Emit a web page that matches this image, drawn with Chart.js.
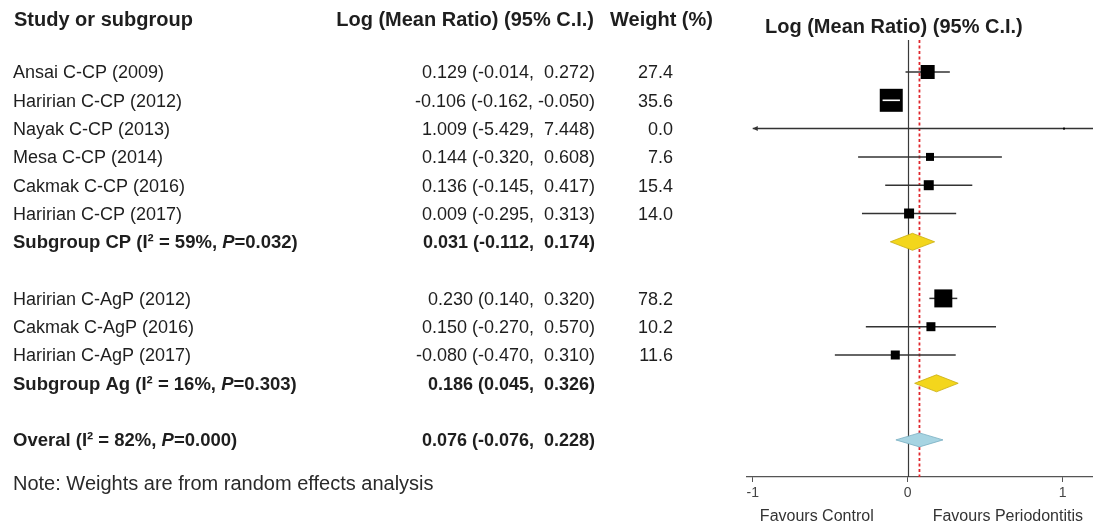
<!DOCTYPE html>
<html>
<head>
<meta charset="utf-8">
<title>Forest plot: Log (Mean Ratio)</title>
<script src="https://cdn.jsdelivr.net/npm/chart.js@4.4.1/dist/chart.umd.min.js"></script>
<style>
  html, body { margin: 0; padding: 0; background: #fff; }
  #wrap { width: 1093px; height: 528px; position: relative; }
  canvas { display: block; }
</style>
</head>
<body>
<div id="wrap"><canvas id="forest" width="1093" height="528"></canvas></div>
<script>
// ---- Study-level data ----
const studies   = ['Ansai C-CP (2009)', 'Haririan C-CP (2012)', 'Nayak C-CP (2013)', 'Mesa C-CP (2014)',
                   'Cakmak C-CP (2016)', 'Haririan C-CP (2017)',
                   'Haririan C-AgP (2012)', 'Cakmak C-AgP (2016)', 'Haririan C-AgP (2017)'];
const studyGroup = ['CP', 'CP', 'CP', 'CP', 'CP', 'CP', 'Ag', 'Ag', 'Ag'];
const estimate  = [0.129, -0.106, 1.009, 0.144, 0.136, 0.009, 0.230, 0.150, -0.080];
const lower     = [-0.014, -0.162, -5.429, -0.320, -0.145, -0.295, 0.140, -0.270, -0.470];
const upper     = [0.272, -0.050, 7.448, 0.608, 0.417, 0.313, 0.320, 0.570, 0.310];
const weights   = [27.4, 35.6, 0.0, 7.6, 15.4, 14.0, 78.2, 10.2, 11.6];

// ---- Pooled estimates ----
const groups        = ['CP', 'Ag'];
const groupLabels   = ['Subgroup CP', 'Subgroup Ag'];
const groupI2       = [59, 16];
const groupP        = ['0.032', '0.303'];
const groupEstimate = [0.031, 0.186];
const groupLower    = [-0.112, 0.045];
const groupUpper    = [0.174, 0.326];

const overallLabel    = 'Overal';
const overallI2       = 82;
const overallP        = '0.000';
const overallEstimate = 0.076;
const overallLower    = -0.076;
const overallUpper    = 0.228;

// ---- Axis ticks ----
const xTicks = [-1, 0, 1];

// ---- Marker styling (box side in px per study) ----
const boxSide = [14, 23, 2, 8, 10, 10, 18, 9, 9];
const FONT = '"Liberation Sans", Arial, Helvetica, sans-serif';
const TEXT = '#1e1e1e';

// Row layout: each group's studies, then its pooled row, then a blank row; overall last.
const studyRow = new Array(studies.length);
const groupRow = [];
let r = 0;
groups.forEach((g, gi) => {
  studyGroup.forEach((sg, i) => { if (sg === g) studyRow[i] = r++; });
  groupRow[gi] = r++;
  r++;
});
const overallRow = r;

function ciText(e, lo, hi) {
  const f = v => v.toFixed(3);
  return f(e) + ' (' + f(lo) + ', ' + (hi >= 0 ? ' ' : '') + f(hi) + ')';
}

// Draw runs of text with mixed styles, left to right.
function drawRuns(ctx, runs, x, y, size) {
  let cx = x;
  runs.forEach(([txt, style]) => {
    ctx.font = style + ' ' + size + 'px ' + FONT;
    ctx.fillText(txt, cx, y);
    cx += ctx.measureText(txt).width;
  });
}

function diamond(ctx, xs, y, lo, est, hi, half, fill, stroke) {
  const x0 = xs.getPixelForValue(lo), x1 = xs.getPixelForValue(est), x2 = xs.getPixelForValue(hi);
  ctx.beginPath();
  ctx.moveTo(x0, y);
  ctx.lineTo(x1, y - half);
  ctx.lineTo(x2, y);
  ctx.lineTo(x1, y + half);
  ctx.closePath();
  ctx.fillStyle = fill;
  ctx.fill();
  ctx.lineWidth = 0.8;
  ctx.strokeStyle = stroke;
  ctx.stroke();
}

const forestPlugin = {
  id: 'forest',
  beforeDatasetsDraw(chart) {
    const { ctx, chartArea, scales: { x: xs, y: ys } } = chart;
    ctx.save();
    // null line
    const x0 = Math.round(xs.getPixelForValue(0)) + 0.5;
    ctx.strokeStyle = '#3a3a3a';
    ctx.lineWidth = 1.2;
    ctx.beginPath();
    ctx.moveTo(x0, chartArea.top);
    ctx.lineTo(x0, chartArea.bottom);
    ctx.stroke();
    // overall estimate line
    const xo = xs.getPixelForValue(overallEstimate);
    ctx.strokeStyle = '#e0262c';
    ctx.lineWidth = 1.8;
    ctx.setLineDash([3, 2.5]);
    ctx.beginPath();
    ctx.moveTo(xo, chartArea.top);
    ctx.lineTo(xo, chartArea.bottom);
    ctx.stroke();
    ctx.setLineDash([]);

    // confidence intervals
    ctx.strokeStyle = '#333333';
    ctx.fillStyle = '#333333';
    ctx.lineWidth = 1.5;
    const leftLimit = xTicks[0];
    studies.forEach((s, i) => {
      const y = ys.getPixelForValue(studyRow[i]);
      const lo = Math.max(lower[i], leftLimit);
      const hi = Math.min(upper[i], xs.max);
      const px0 = xs.getPixelForValue(lo), px1 = xs.getPixelForValue(hi);
      ctx.beginPath();
      ctx.moveTo(px0, y);
      ctx.lineTo(px1, y);
      ctx.stroke();
      if (lower[i] < leftLimit) {
        ctx.beginPath();
        ctx.moveTo(px0, y);
        ctx.lineTo(px0 + 5, y - 2.5);
        ctx.lineTo(px0 + 5, y + 2.5);
        ctx.closePath();
        ctx.fill();
      }
    });

    // pooled diamonds
    groups.forEach((g, gi) => {
      diamond(ctx, xs, ys.getPixelForValue(groupRow[gi]), groupLower[gi], groupEstimate[gi], groupUpper[gi],
              8.5, '#f3d61c', '#c9ad12');
    });
    diamond(ctx, xs, ys.getPixelForValue(overallRow), overallLower, overallEstimate, overallUpper,
            7, '#a7d4e2', '#79afc1');
    ctx.restore();
  },
  afterDatasetsDraw(chart) {
    const { ctx, scales: { x: xs, y: ys } } = chart;
    ctx.save();
    // a CI lying wholly inside its box is drawn in white so it stays visible
    studies.forEach((s, i) => {
      const cx = xs.getPixelForValue(estimate[i]);
      const half = boxSide[i] / 2;
      const px0 = xs.getPixelForValue(lower[i]), px1 = xs.getPixelForValue(upper[i]);
      if (px0 > cx - half && px1 < cx + half) {
        const y = ys.getPixelForValue(studyRow[i]);
        ctx.strokeStyle = '#ffffff';
        ctx.lineWidth = 1.6;
        ctx.beginPath();
        ctx.moveTo(px0, y);
        ctx.lineTo(px1, y);
        ctx.stroke();
      }
    });
    ctx.restore();
  },
  afterDraw(chart) {
    const { ctx, scales: { x: xs, y: ys } } = chart;
    ctx.save();
    ctx.fillStyle = TEXT;
    ctx.textBaseline = 'middle';

    // column headers
    ctx.font = 'bold 20px ' + FONT;
    ctx.textAlign = 'left';
    ctx.fillText('Study or subgroup', 14, 20);
    ctx.textAlign = 'right';
    ctx.fillText('Log (Mean Ratio) (95% C.I.)', 594, 20);
    ctx.textAlign = 'left';
    ctx.fillText('Weight (%)', 610, 20);
    ctx.fillText('Log (Mean Ratio) (95% C.I.)', 765, 27);

    // study rows
    studies.forEach((s, i) => {
      const y = ys.getPixelForValue(studyRow[i]) + 1.5;
      ctx.font = '18px ' + FONT;
      ctx.textAlign = 'left';
      ctx.fillText(s, 13, y);
      ctx.textAlign = 'right';
      ctx.fillText(ciText(estimate[i], lower[i], upper[i]), 595, y);
      ctx.fillText(weights[i].toFixed(1), 673, y);
    });

    // pooled rows
    const pooled = groups.map((g, gi) => [groupLabels[gi], groupI2[gi], groupP[gi], groupRow[gi],
                                          groupEstimate[gi], groupLower[gi], groupUpper[gi]]);
    pooled.push([overallLabel, overallI2, overallP, overallRow, overallEstimate, overallLower, overallUpper]);
    pooled.forEach(([label, i2, p, row, e, lo, hi]) => {
      const y = ys.getPixelForValue(row) + 1.5;
      ctx.textAlign = 'left';
      drawRuns(ctx, [[label + ' (I\u00B2 = ' + i2 + '%, ', 'bold'], ['P', 'italic bold'], ['=' + p + ')', 'bold']], 13, y, 18.5);
      ctx.font = 'bold 18px ' + FONT;
      ctx.textAlign = 'right';
      ctx.fillText(ciText(e, lo, hi), 595, y);
    });

    // footnote
    ctx.font = '20px ' + FONT;
    ctx.textAlign = 'left';
    ctx.fillStyle = '#2a2a2a';
    ctx.fillText('Note: Weights are from random effects analysis', 13, 484);

    // direction labels under the axis
    const zx = xs.getPixelForValue(0);
    ctx.font = '16px ' + FONT;
    ctx.fillStyle = '#333333';
    ctx.textAlign = 'right';
    ctx.fillText('Favours Control', zx - 34, 517);
    ctx.textAlign = 'left';
    ctx.fillText('Favours Periodontitis', zx + 25, 517);
    ctx.restore();
  }
};

new Chart(document.getElementById('forest'), {
  type: 'scatter',
  data: {
    datasets: [{
      label: 'Studies',
      data: studies.map((s, i) => ({ x: estimate[i], y: studyRow[i] })),
      pointStyle: 'rect',
      pointRadius: boxSide.map(v => v / Math.SQRT2),
      pointHoverRadius: boxSide.map(v => v / Math.SQRT2),
      backgroundColor: '#000000',
      borderWidth: 0
    }]
  },
  options: {
    responsive: false,
    animation: false,
    devicePixelRatio: 1,
    layout: { autoPadding: false, padding: { left: 747, right: 0, top: 40, bottom: 0 } },
    plugins: { legend: { display: false }, tooltip: { enabled: false } },
    scales: {
      x: {
        type: 'linear',
        min: -1.037,
        max: 1.196,
        afterBuildTicks: s => { s.ticks = xTicks.map(v => ({ value: v })); },
        afterFit: s => { s.height = 51; },
        grid: { drawOnChartArea: false, drawTicks: true, tickLength: 5, color: '#555555', lineWidth: 1 },
        border: { display: true, color: '#555555', width: 1.2 },
        ticks: { color: '#444444', font: { family: FONT, size: 14 }, padding: 3, maxRotation: 0,
                 callback: v => String(v) }
      },
      y: {
        type: 'linear',
        reverse: true,
        min: -1.131,
        max: 14.311,
        display: false
      }
    }
  },
  plugins: [forestPlugin]
});
</script>
</body>
</html>
